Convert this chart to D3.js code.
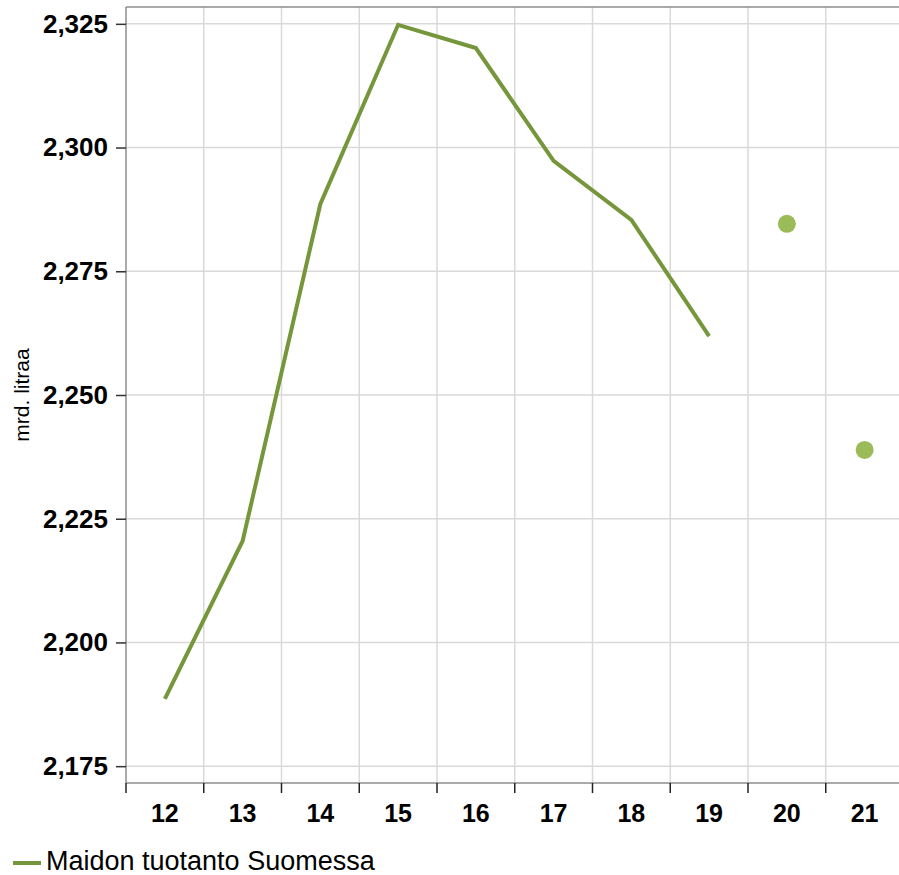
<!DOCTYPE html>
<html lang="fi">
  <head>
    <meta charset="UTF-8" />
    <title>Maidon tuotanto Suomessa</title>
    <script src="https://d3js.org/d3.v7.min.js"></script>
    <style>
      body {
        margin: 0;
        background: #ffffff;
        font-family: "Liberation Sans", Arial, sans-serif;
      }
      svg {
        display: block;
      }
      .grid line {
        stroke: #d9d9d9;
        stroke-width: 1.5;
      }
      .tick text {
        font-weight: bold;
        font-size: 25px;
        fill: #000;
      }
      .yax .tick text {
        font-size: 26px;
      }
    </style>
  </head>
  <body>
    <svg id="chart" width="899" height="875"></svg>

    <script>
      const years = ["12", "13", "14", "15", "16", "17", "18", "19", "20", "21"];
      const lineValues = [2.1886, 2.2205, 2.2886, 2.3248, 2.3201, 2.2973, 2.2854, 2.2619, null, null];
      const dotValues = [null, null, null, null, null, null, null, null, 2.2846, 2.2389];
      const yTicks = [2.175, 2.2, 2.225, 2.25, 2.275, 2.3, 2.325];

      const svg = d3.select("#chart");
      const mLeft = 126, mTop = 7, mBottom = 783, mRight = 903.5;

      const x = d3.scaleBand().domain(years).range([mLeft, mRight]);
      const y = d3.scaleLinear().domain([2.1716, 2.3284]).range([mBottom, mTop]);
      const fmt = (d) => d3.format(",.3f")(d).replace(".", ",");

      // grid
      svg.append("g")
        .attr("class", "grid")
        .selectAll("line")
        .data(yTicks)
        .join("line")
        .attr("x1", mLeft)
        .attr("x2", mRight)
        .attr("y1", (d) => y(d))
        .attr("y2", (d) => y(d));

      svg.append("g")
        .attr("class", "grid")
        .selectAll("line")
        .data(years.slice(1))
        .join("line")
        .attr("x1", (d) => x(d))
        .attr("x2", (d) => x(d))
        .attr("y1", mTop)
        .attr("y2", mBottom);

      // frame
      svg.append("line")
        .attr("x1", mLeft).attr("x2", mRight)
        .attr("y1", mTop).attr("y2", mTop)
        .attr("stroke", "#8c8c8c").attr("stroke-width", 1.5);

      // y axis
      const yAxis = svg.append("g")
        .attr("class", "yax")
        .attr("transform", `translate(${mLeft},0)`)
        .call(d3.axisLeft(y).tickValues(yTicks).tickFormat(fmt).tickSize(10).tickPadding(8));
      yAxis.select(".domain").attr("stroke", "#8c8c8c").attr("stroke-width", 1.5).attr("d", `M0,${mTop}V${mBottom}`);
      yAxis.selectAll(".tick line").attr("stroke", "#333").attr("stroke-width", 1.5);

      // x axis
      const xAxis = svg.append("g")
        .attr("transform", `translate(0,${mBottom})`)
        .call(d3.axisBottom(x).tickSize(0));
      xAxis.select(".domain").attr("stroke", "#8c8c8c").attr("stroke-width", 1.5).attr("d", `M${mLeft},0H${mRight}`);
      xAxis.selectAll(".tick text").attr("y", 30).attr("dy", "0.35em");
      xAxis.append("g")
        .selectAll("line")
        .data(years)
        .join("line")
        .attr("x1", (d) => x(d))
        .attr("x2", (d) => x(d))
        .attr("y1", 0)
        .attr("y2", 10)
        .attr("stroke", "#222")
        .attr("stroke-width", 1.5);

      // axis title
      svg.append("text")
        .attr("transform", `translate(29,${(mTop + mBottom) / 2}) rotate(-90)`)
        .attr("text-anchor", "middle")
        .attr("font-size", 21)
        .attr("fill", "#000")
        .text("mrd. litraa");

      // line
      const line = d3.line()
        .defined((d) => d != null)
        .x((d, i) => x(years[i]) + x.bandwidth() / 2)
        .y((d) => y(d));

      svg.append("path")
        .datum(lineValues)
        .attr("fill", "none")
        .attr("stroke", "#76963b")
        .attr("stroke-width", 4)
        .attr("d", line);

      // forecast dots
      svg.append("g")
        .selectAll("circle")
        .data(dotValues.map((v, i) => ({ v, k: years[i] })).filter((d) => d.v != null))
        .join("circle")
        .attr("cx", (d) => x(d.k) + x.bandwidth() / 2)
        .attr("cy", (d) => y(d.v))
        .attr("r", 9)
        .attr("fill", "#9bbb59");

      // legend
      svg.append("line")
        .attr("x1", 13).attr("x2", 41)
        .attr("y1", 863).attr("y2", 863)
        .attr("stroke", "#76963b").attr("stroke-width", 4);
      svg.append("text")
        .attr("x", 46)
        .attr("y", 870)
        .attr("font-size", 27)
        .attr("fill", "#000")
        .text("Maidon tuotanto Suomessa");
    </script>
  </body>
</html>
